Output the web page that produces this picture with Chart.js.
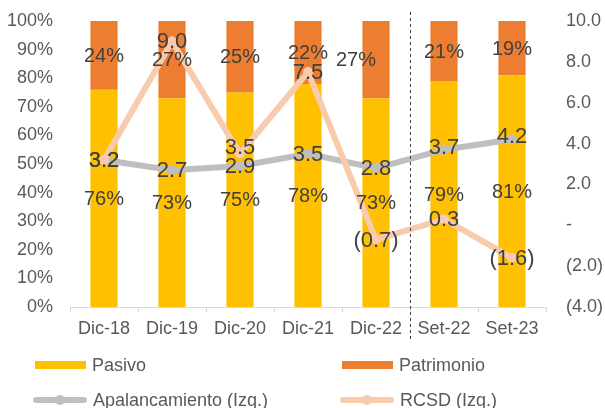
<!DOCTYPE html>
<html>
<head>
<meta charset="utf-8">
<script src="https://cdn.jsdelivr.net/npm/chart.js@4.4.0/dist/chart.umd.min.js"></script>
<style>
  body { margin: 0; background: #fff; font-family: "Liberation Sans", Arial, sans-serif; }
  #wrap { position: relative; width: 605px; height: 408px; }
  #leyenda { position: absolute; left: 0; top: 0; width: 605px; height: 408px; pointer-events: none; }
  .item { position: absolute; display: flex; align-items: center; font-size: 18px; color: #595959; white-space: nowrap; }
  .caja { width: 51px; height: 8px; margin-right: 6px; }
  .linea { position: relative; width: 54px; height: 6px; margin-right: 6px; border-radius: 3px; }
  .linea span { position: absolute; left: 22px; top: -2px; width: 10px; height: 10px; border-radius: 50%; }
</style>
</head>
<body>
<div id="wrap">
  <canvas id="grafico" width="605" height="408"></canvas>
  <div id="leyenda"></div>
</div>
<script>
// datos
const categorias = ['Dic-18', 'Dic-19', 'Dic-20', 'Dic-21', 'Dic-22', 'Set-22', 'Set-23'];
const pasivo = [76, 73, 75, 78, 73, 79, 81];
const patrimonio = [24, 27, 25, 22, 27, 21, 19];
const apalancamiento = [3.2, 2.7, 2.9, 3.5, 2.8, 3.7, 4.2];
const rcsd = [3.2, 9.0, 3.5, 7.5, -0.7, 0.3, -1.6];

const colores = {
    pasivo: '#FFC000',
    patrimonio: '#ED7D31',
    apalancamiento: '#BFBFBF',
    rcsd: '#F8CBAD'
};

// formato tipo contable: negativos entre parentesis
function formatoNum(v) {
    if (v === 0) return '-';
    if (v < 0) return '(' + Math.abs(v).toFixed(1) + ')';
    return v.toFixed(1);
}

// pequenos ajustes de posicion de etiquetas (dataset-indice)
const ajustes = { '1-4': [-20, 0], '3-2': [0, -7], '2-5': [0, -3], '2-6': [0, -4] };

const etiquetasPlugin = {
    id: 'etiquetas',
    afterDatasetsDraw(chart) {
        const ctx = chart.ctx;
        ctx.save();
        ctx.textAlign = 'center';
        ctx.textBaseline = 'middle';
        ctx.fillStyle = '#404040';
        chart.data.datasets.forEach((ds, i) => {
            const meta = chart.getDatasetMeta(i);
            meta.data.forEach((el, j) => {
                const aj = ajustes[i + '-' + j] || [0, 0];
                let x = el.x, y = el.y, txt;
                if (ds.type === 'bar') {
                    y = (el.y + el.base) / 2;
                    txt = ds.data[j] + '%';
                    ctx.font = '20px "Liberation Sans", Arial, sans-serif';
                } else {
                    txt = formatoNum(ds.data[j]);
                    ctx.font = '22px "Liberation Sans", Arial, sans-serif';
                }
                ctx.fillText(txt, x + aj[0], y + aj[1] + 1);
            });
        });
        ctx.restore();
    }
};

// linea punteada entre Dic-22 y Set-22
const separadorPlugin = {
    id: 'separador',
    afterDraw(chart) {
        const xs = chart.scales.x;
        const x = Math.round((xs.getPixelForValue(4) + xs.getPixelForValue(5)) / 2) + 0.5;
        const ctx = chart.ctx;
        ctx.save();
        ctx.strokeStyle = '#404040';
        ctx.lineWidth = 1;
        ctx.setLineDash([3, 3]);
        ctx.beginPath();
        ctx.moveTo(x, 12);
        ctx.lineTo(x, 340);
        ctx.stroke();
        ctx.restore();
    }
};

function ajustarEjeY(ancho) {
    return function (s) {
        s.width = ancho;
        s.paddingTop = 0;
        s.paddingBottom = 0;
    };
}

const ctx = document.getElementById('grafico').getContext('2d');
new Chart(ctx, {
    data: {
        labels: categorias,
        datasets: [
            { type: 'bar', label: 'Pasivo', data: pasivo, backgroundColor: colores.pasivo, yAxisID: 'y', stack: 's', order: 3 },
            { type: 'bar', label: 'Patrimonio', data: patrimonio, backgroundColor: colores.patrimonio, yAxisID: 'y', stack: 's', order: 3 },
            { type: 'line', label: 'Apalancamiento (Izq.)', data: apalancamiento, borderColor: colores.apalancamiento,
              backgroundColor: colores.apalancamiento, borderWidth: 6, pointRadius: 5, pointBorderWidth: 0, yAxisID: 'y1', order: 2 },
            { type: 'line', label: 'RCSD (Izq.)', data: rcsd, borderColor: colores.rcsd,
              backgroundColor: colores.rcsd, borderWidth: 6, pointRadius: 5, pointBorderWidth: 0, yAxisID: 'y1', order: 1 }
        ]
    },
    options: {
        responsive: false,
        animation: false,
        layout: { padding: { top: 21, bottom: 66, left: 0, right: 0 }, autoPadding: false },
        datasets: { bar: { categoryPercentage: 1, barPercentage: 0.4 } },
        plugins: { legend: { display: false }, tooltip: { enabled: false } },
        scales: {
            x: {
                stacked: true,
                afterFit(s) { s.height = 35; s.paddingLeft = 0; s.paddingRight = 0; },
                grid: { offset: true, drawOnChartArea: false, drawTicks: true, tickLength: 5, color: '#D9D9D9' },
                border: { display: true, color: '#D9D9D9' },
                ticks: { color: '#595959', font: { size: 18, family: '"Liberation Sans", Arial, sans-serif' }, padding: 6 }
            },
            y: {
                stacked: true,
                position: 'left',
                min: 0, max: 100,
                afterFit: ajustarEjeY(70),
                grid: { display: false, drawTicks: false },
                border: { display: false },
                ticks: { stepSize: 10, padding: 17, color: '#595959',
                         font: { size: 18, family: '"Liberation Sans", Arial, sans-serif' },
                         callback: v => v + '%' }
            },
            y1: {
                position: 'right',
                min: -4, max: 10,
                afterFit: ajustarEjeY(59),
                grid: { display: false, drawTicks: false },
                border: { display: false },
                ticks: { stepSize: 2, padding: 20, color: '#595959',
                         font: { size: 18, family: '"Liberation Sans", Arial, sans-serif' },
                         callback: v => formatoNum(v) }
            }
        }
    },
    plugins: [etiquetasPlugin, separadorPlugin]
});

// leyenda en dos columnas
const leyenda = [
    { txt: 'Pasivo', color: colores.pasivo, tipo: 'caja', x: 35, y: 365 },
    { txt: 'Patrimonio', color: colores.patrimonio, tipo: 'caja', x: 342, y: 365 },
    { txt: 'Apalancamiento (Izq.)', color: colores.apalancamiento, tipo: 'linea', x: 33, y: 400 },
    { txt: 'RCSD (Izq.)', color: colores.rcsd, tipo: 'linea', x: 340, y: 400 }
];
const cont = document.getElementById('leyenda');
leyenda.forEach(it => {
    const d = document.createElement('div');
    d.className = 'item';
    d.style.left = it.x + 'px';
    d.style.top = (it.y - 11) + 'px';
    d.style.height = '22px';
    const s = document.createElement('div');
    s.className = it.tipo;
    s.style.background = it.color;
    if (it.tipo === 'linea') {
        const p = document.createElement('span');
        p.style.background = it.color;
        s.appendChild(p);
    }
    d.appendChild(s);
    d.appendChild(document.createTextNode(it.txt));
    cont.appendChild(d);
});
</script>
</body>
</html>
